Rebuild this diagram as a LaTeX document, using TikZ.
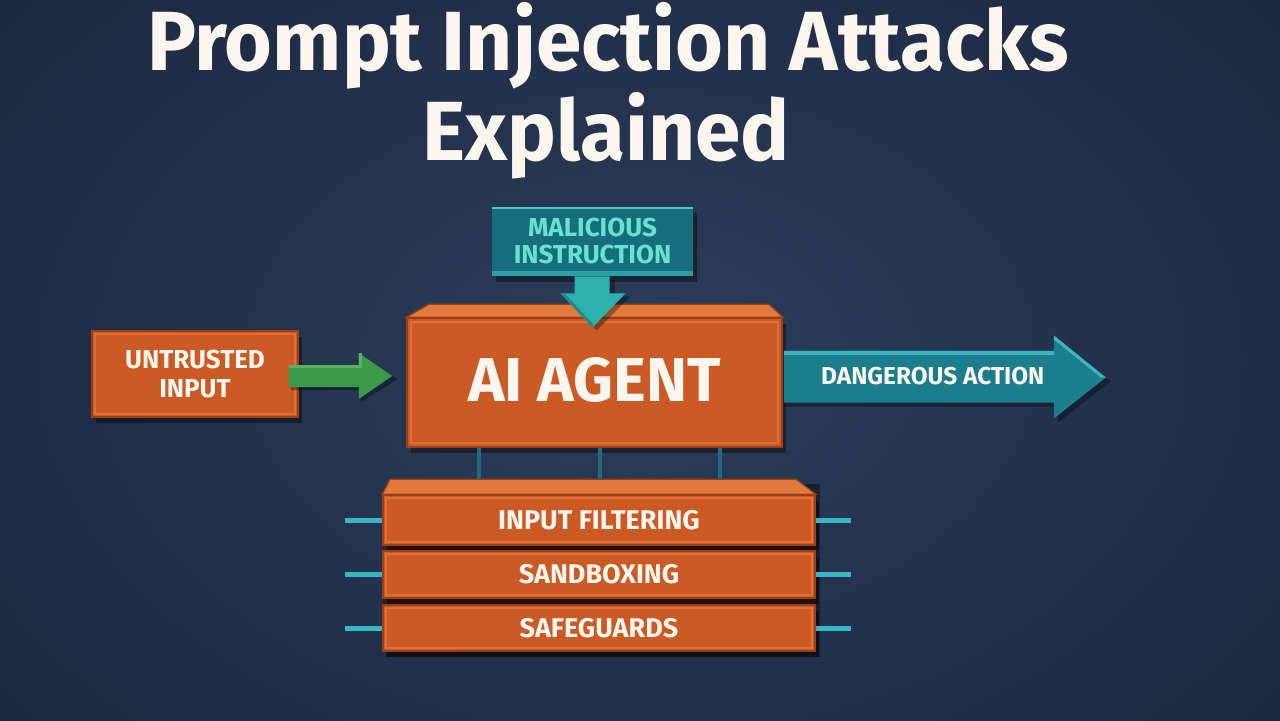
\documentclass[tikz,border=0pt]{standalone}
\usepackage{fontspec}
\setmainfont{Fira Sans}
\usetikzlibrary{calc,shadows}
\definecolor{bgmid}{HTML}{2B3E5B}
\definecolor{bgedge}{HTML}{1A263D}
\definecolor{orface}{HTML}{CC5A24}
\definecolor{ortop}{HTML}{E27A3E}
\definecolor{ordark}{HTML}{9A3F18}
\definecolor{orline}{HTML}{DD7034}
\definecolor{stackgap}{HTML}{3A1C12}
\definecolor{tealbox}{HTML}{166D7B}
\definecolor{tealline}{HTML}{48C8C4}
\definecolor{tealband}{HTML}{2B9EA6}
\definecolor{aqua}{HTML}{66E2CF}
\definecolor{turq}{HTML}{2BB2AE}
\definecolor{turqdark}{HTML}{1E8A88}
\definecolor{greenarr}{HTML}{3B9A4A}
\definecolor{greentop}{HTML}{55B462}
\definecolor{dangfill}{HTML}{1C7D8C}
\definecolor{dangtop}{HTML}{3FB3BE}
\definecolor{vconn}{HTML}{1F6C7E}
\definecolor{sideline}{HTML}{38B6C6}
\definecolor{txtwhite}{HTML}{FBF6EE}
\begin{document}
\begin{tikzpicture}[x=0.5pt,y=-0.5pt,
  orbox/.style={rectangle, fill=orface, draw=ordark, line width=0.8pt, inner sep=0pt,
    drop shadow={shadow xshift=2pt, shadow yshift=-3pt, opacity=0.4, fill=black}},
  lbl/.style={text=txtwhite, font=\bfseries\fontsize{13}{14.5}\selectfont, align=center},
  inset/.style={orline, line width=0.8pt},
  arrowshadow/.style={fill=black, opacity=0.35},
  vline/.style={vconn, line width=2pt},
  sline/.style={sideline, line width=2.5pt}
]
\useasboundingbox (0,0) rectangle (1280,720);
\shade[inner color=bgmid, outer color=bgedge] (-250,-250) rectangle (1530,970);

% title
\node[anchor=base, text=txtwhite, font=\bfseries\fontsize{42}{45}\selectfont] (title1) at (608,70)
  {\scalebox{0.975}[1]{Prompt Injection Attacks}};
\node[anchor=base, text=txtwhite, font=\bfseries\fontsize{42}{45}\selectfont] (title2) at (606,160)
  {\scalebox{0.975}[1]{Explained}};

% untrusted input
\node[orbox, minimum width=103pt, minimum height=43pt] (untrusted) at (195,374) {};
\draw[inset] ($(untrusted.north west)+(4,4)$) rectangle ($(untrusted.south east)+(-4,-4)$);
\node[lbl] (untrustedtxt) at (untrusted.center) {UNTRUSTED\\INPUT};

% malicious instruction
\node[rectangle, fill=tealbox, inner sep=0pt, minimum width=100.5pt, minimum height=34.5pt,
  drop shadow={shadow xshift=2pt, shadow yshift=-3pt, opacity=0.4, fill=black}] (malicious) at (592.5,241.5) {};
\fill[tealline] (malicious.north west) rectangle ($(malicious.north east)+(0,2)$);
\fill[tealband] ($(malicious.south west)+(0,-5)$) rectangle (malicious.south east);
\node[text=aqua, font=\bfseries\fontsize{13}{13.5}\selectfont, align=center] (maltxt) at ($(malicious.center)+(0,-1)$) {MALICIOUS\\INSTRUCTION};

% AI agent
\node[orbox, minimum width=187.5pt, minimum height=64.5pt] (agent) at (594.5,382.5) {};
\fill[ortop, draw=ordark, line width=0.6pt] ($(agent.north west)+(23,-13)$) -- ($(agent.north east)+(-14,-13)$)
  -- (agent.north east) -- (agent.north west) -- cycle;
\draw[inset] ($(agent.north west)+(5,5)$) rectangle ($(agent.south east)+(-5,-5)$);
\node[text=txtwhite, font=\bfseries\fontsize{31}{33}\selectfont] (agenttxt) at ($(agent.center)+(0,-2)$) {AI AGENT};

% malicious -> agent arrow
\fill[arrowshadow] ($(malicious.south)+(-14,3)$) -- ++(0,17) -- ++(-14,0) -- ++(32,34) -- ++(34,-34) -- ++(-16,0) -- ++(0,-17) -- cycle;
\fill[turq] ($(malicious.south)+(-18,0)$) -- ++(0,17) -- ++(-14,0) -- ($(malicious.south)+(0,51)$)
  -- ++(33,-34) -- ++(-16,0) -- ($(malicious.south)+(17,0)$) -- cycle;
\fill[turqdark] ($(malicious.south)+(-32,17)$) -- ($(malicious.south)+(0,51)$) -- ($(malicious.south)+(0,47)$) -- ($(malicious.south)+(-28,17)$) -- cycle;

% untrusted -> agent arrow
\fill[arrowshadow] ($(untrusted.east)+(-8,-6)$) -- ++(70,0) -- ++(0,-12) -- ++(37,23) -- ++(-37,23) -- ++(0,-12) -- ++(-70,0) -- cycle;
\fill[greenarr] ($(untrusted.east)+(-10,-9)$) -- ++(70,0) -- ++(0,-12) -- ($(agent.west)+(-14,-6.5)$)
  -- ($(untrusted.east)+(60,25)$) -- ++(0,-12) -- ($(untrusted.east)+(-10,13)$) -- cycle;
\fill[greentop] ($(untrusted.east)+(-10,-9)$) -- ++(70,0) -- ++(0,-12) -- ++(3,0) -- ++(0,15) -- ++(-73,0) -- cycle;

% agent -> dangerous action arrow
\fill[arrowshadow] ($(agent.east)+(1,-28)$) -- ++(274,0) -- ++(0,-15) -- ++(53,42) -- ++(-53,41) -- ++(0,-16) -- ++(-274,0) -- cycle;
\fill[dangfill] ($(agent.east)+(1,-32)$) -- ++(270,0) -- ++(0,-15) -- ($(agent.east)+(323,-5)$)
  -- ($(agent.east)+(271,36)$) -- ++(0,-16) -- ($(agent.east)+(1,20)$) -- cycle;
\fill[dangtop] ($(agent.east)+(1,-32)$) -- ++(270,0) -- ++(0,4) -- ++(-270,0) -- cycle;
\fill[dangtop] ($(agent.east)+(271,-47)$) -- ($(agent.east)+(323,-5)$) -- ($(agent.east)+(318,-5)$) -- ($(agent.east)+(271,-43)$) -- cycle;
\node[lbl, font=\bfseries\fontsize{12.2}{14}\selectfont] (danger) at ($(agent.east)+(150,-6)$) {DANGEROUS ACTION};

% defence stack
\fill[black, opacity=0.4] (386,484) rectangle (820,657);
\fill[stackgap] (383,495) rectangle (815,651);
\node[orbox, minimum width=216pt, minimum height=25pt] (l1) at (599,520) {};
\node[orbox, minimum width=216pt, minimum height=23.5pt] (l2) at (599,574.5) {};
\node[orbox, minimum width=216pt, minimum height=23pt] (l3) at (599,628) {};
\fill[ortop, draw=ordark, line width=0.6pt] ($(l1.north west)+(8,-15)$) -- ($(l1.north east)+(-20,-15)$)
  -- (l1.north east) -- (l1.north west) -- cycle;
\foreach \n in {l1,l2,l3}{
  \draw[inset] ($(\n.north west)+(4,4)$) rectangle ($(\n.south east)+(-4,-4)$);
  \draw[sline] (\n.west) -- ($(\n.west)+(-37,0)$);
  \draw[sline] (\n.east) -- ($(\n.east)+(35,0)$);
}
\node[lbl, font=\bfseries\fontsize{13.5}{15}\selectfont] (l1txt) at (l1.center) {INPUT FILTERING};
\node[lbl, font=\bfseries\fontsize{13.5}{15}\selectfont] (l2txt) at (l2.center) {SANDBOXING};
\node[lbl, font=\bfseries\fontsize{13.5}{15}\selectfont] (l3txt) at (l3.center) {SAFEGUARDS};

% agent -> stack connectors
\coordinate (stacktop) at ($(l1.north)+(0,-15)$);
\coordinate (c1) at ($(agent.south west)!0.192!(agent.south east)$);
\coordinate (c2) at ($(agent.south west)!0.515!(agent.south east)$);
\coordinate (c3) at ($(agent.south west)!0.832!(agent.south east)$);
\foreach \c in {c1,c2,c3}{
  \draw[vline] (\c) -- (\c |- stacktop);
}
\end{tikzpicture}
\end{document}
